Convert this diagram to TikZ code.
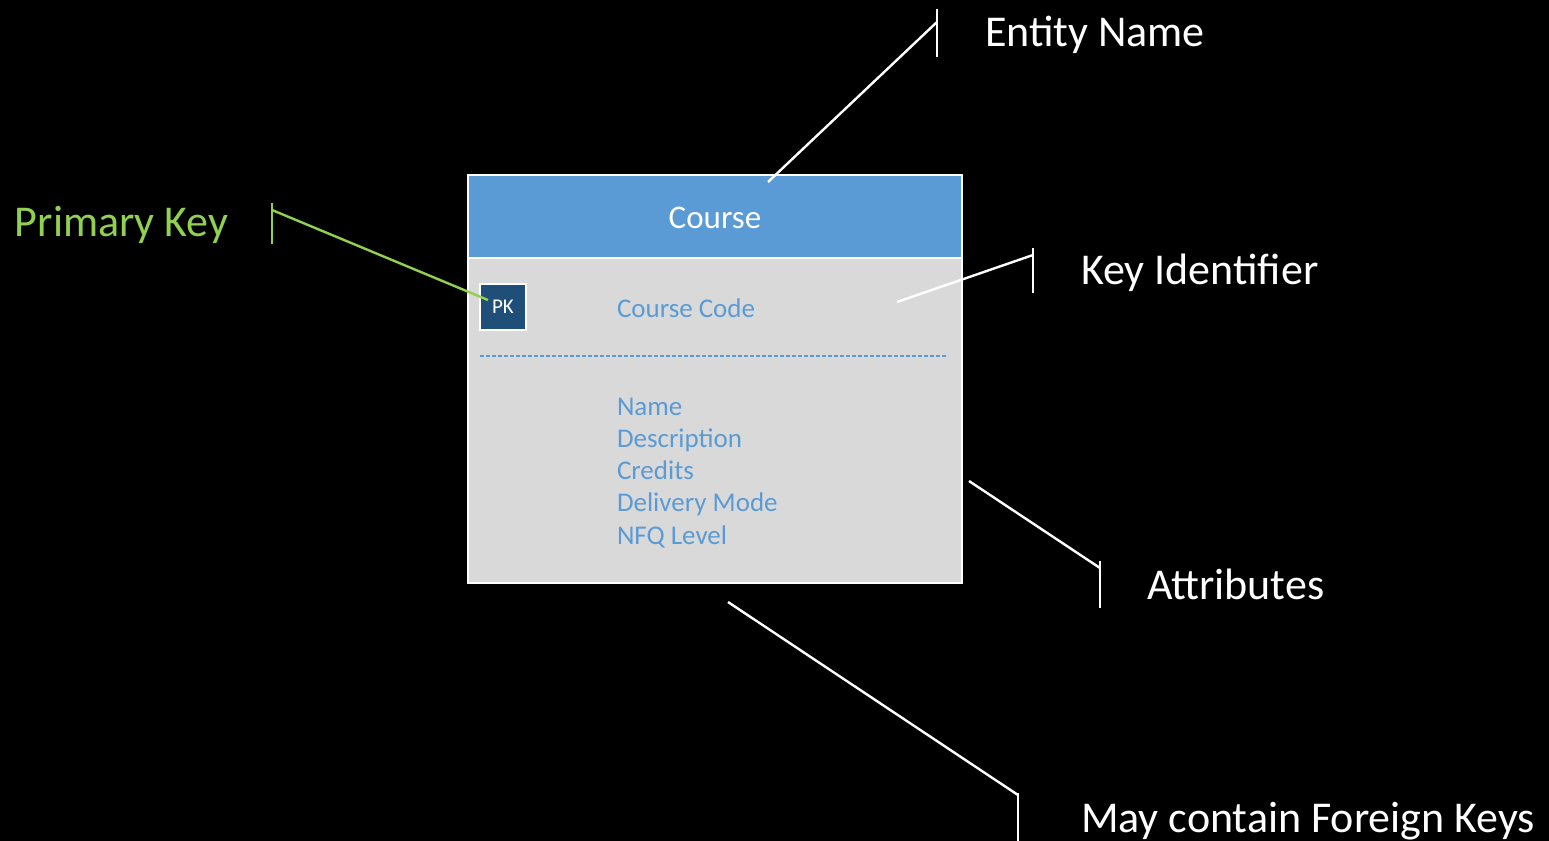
\documentclass[tikz,border=0pt]{standalone}
\usepackage{fontspec}
\setmainfont{Carlito}
\usepackage{tikz}
\definecolor{headblue}{RGB}{91,155,213}
\definecolor{bodygray}{RGB}{217,217,217}
\definecolor{pkblue}{RGB}{31,78,121}
\definecolor{keygreen}{RGB}{146,208,80}

\begin{document}
\begin{tikzpicture}[x=0.5pt, y=-0.5pt,
	every node/.style={inner sep=0pt, outer sep=0pt},
	callout/.style={draw=white, line width=1.2pt},
	label/.style={anchor=base west, text=white, font=\fontsize{22}{26}\selectfont},
	attr/.style={anchor=base west, text=headblue, font=\fontsize{13.5}{16}\selectfont},
	box/.style={draw=white, line width=1pt, minimum width=247pt, anchor=north west}]

    \fill[black] (0,0) rectangle (1549,841);
    \useasboundingbox (0,0) rectangle (1549,841);

    % entity
    \node[box, fill=bodygray, minimum height=204pt] (course) at (468,175) {};
    \node[box, fill=headblue, minimum height=41.5pt] (head) at (468,175) {};
    \node[anchor=base, text=white, font=\fontsize{16.5}{20}\selectfont] (title) at (715,228) {Course};
    \node[fill=pkblue, draw=white, line width=1pt, minimum size=23pt, text=white, font=\fontsize{10.5}{12}\selectfont] (pk) at (503,307) {PK};
    \node[attr] (code) at (617,317) {Course Code};
    \draw[headblue, line width=0.8pt, dash pattern=on 2pt off 1pt] (480,356) coordinate (dashL) -- (948,356) coordinate (dashR);
    \node[attr] (a1) at (617,415) {Name};
    \node[attr] (a2) at (617,447) {Description};
    \node[attr] (a3) at (617,479) {Credits};
    \node[attr] (a4) at (617,511) {Delivery Mode};
    \node[attr] (a5) at (617,544) {NFQ Level};

    % callouts
    \foreach \n/\bx/\btop/\bbot/\jy/\px/\py in {ent/937/9/57/22/768/182, key/1033/248/293/255/897/302, att/1100/561/608/568/969/481, fk/1018/793/841/795/728/602}{
	\coordinate (\n-top) at (\bx,\btop);
	\coordinate (\n-bot) at (\bx,\bbot);
	\coordinate (\n-join) at (\bx,\jy);
	\coordinate (\n-tip) at (\px,\py);
	\draw[callout] (\n-top) -- (\n-bot);
	\draw[callout] (\n-tip) -- (\n-join);
    }
    \coordinate (pk-top) at (272,203);
    \coordinate (pk-bot) at (272,244);
    \coordinate (pk-join) at (272,210);
    \coordinate (pk-tip) at (488,300);
    \draw[callout, draw=keygreen] (pk-top) -- (pk-bot);
    \draw[callout, draw=keygreen] (pk-join) -- (pk-tip);

    \node[label] (entname) at (985,46) {Entity Name};
    \node[label, text=keygreen] (pkname) at (15,236) {Primary Key};
    \node[label] (keyname) at (1081,284) {Key Identifier};
    \node[label] (attname) at (1147,599) {Attributes};
    \node[label] (fkname) at (1081,832) {May contain Foreign Keys};
\end{tikzpicture}
\end{document}
